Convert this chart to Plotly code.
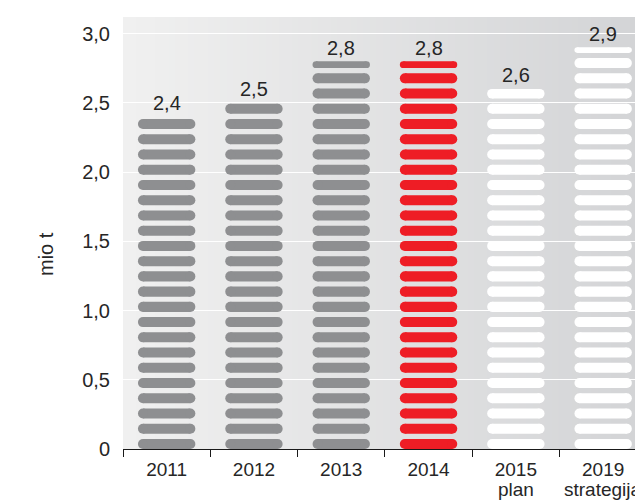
import plotly.graph_objects as go

# ---- data ----
categories = ["2011", "2012", "2013", "2014", "2015<br>plan", "2019<br>strategija"]
values = [2.4, 2.5, 2.8, 2.8, 2.6, 2.9]
value_labels = ["2,4", "2,5", "2,8", "2,8", "2,6", "2,9"]
pill_colors = ["#8e8f91", "#8e8f91", "#8e8f91", "#ee1d25", "#ffffff", "#ffffff"]
y_tickvals = [0, 0.5, 1.0, 1.5, 2.0, 2.5, 3.0]
y_ticktext = ["0", "0,5", "1,0", "1,5", "2,0", "2,5", "3,0"]
y_title = "mio t"

# ---- geometry / style (page body adds an 8px offset) ----
OFF = 8
W, H = 643 - OFF, 500 - OFF
ML, MR, MT = 123 - OFF, 0, 17 - OFF
MB = H - (449 - OFF)
plot_w = W - ML - MR
plot_h = H - MT - MB
px_per_unit = 138.5
y_max = plot_h / px_per_unit
cat_px = 87.3
x_lo = -0.5
x_hi = x_lo + plot_w / cat_px

PERIOD = 0.11          # pill repeat (data units)
PILL_H = 0.0725        # pill thickness (data units)
PILL_W_PX = 57.4       # full pill width incl. round caps
FONT = dict(family="Liberation Sans, Arial, sans-serif", size=20, color="#262626")
XFONT = dict(family="Liberation Sans, Arial, sans-serif", size=19, color="#262626")

fig = go.Figure()

for i, (v, col) in enumerate(zip(values, pill_colors)):
    k = 0
    full_x, full_y = [], []
    partial = []
    while k * PERIOD < v - 1e-9:
        bottom = k * PERIOD
        hgt = min(PILL_H, v - bottom)
        thick_px = hgt * px_per_unit
        half_len = (PILL_W_PX - thick_px) / 2 / cat_px
        yc = bottom + hgt / 2
        if hgt >= PILL_H - 1e-9:
            full_x += [i - half_len, i + half_len, None]
            full_y += [yc, yc, None]
        else:
            partial.append((half_len, yc, thick_px))
        k += 1
    thick = PILL_H * px_per_unit
    fig.add_trace(go.Scatter(
        x=full_x, y=full_y, mode="lines+markers",
        line=dict(color=col, width=thick),
        marker=dict(color=col, size=thick, line=dict(width=0)),
        hoverinfo="skip", showlegend=False, cliponaxis=False))
    for half_len, yc, tp in partial:
        fig.add_trace(go.Scatter(
            x=[i - half_len, i + half_len], y=[yc, yc], mode="lines+markers",
            line=dict(color=col, width=tp),
            marker=dict(color=col, size=tp, line=dict(width=0)),
            hoverinfo="skip", showlegend=False))
    fig.add_annotation(x=i, y=v, text=value_labels[i], showarrow=False,
                       yanchor="middle", yshift=13.5, font=FONT)

# category labels: first line as tick label, second line placed just beneath
first_lines = [c.split("<br>")[0] for c in categories]
for i, c in enumerate(categories):
    parts = c.split("<br>")
    if len(parts) > 1:
        fig.add_annotation(x=i, xref="x", yref="paper", y=0, yanchor="middle",
                           yshift=-40, borderpad=0, text=parts[1], showarrow=False, font=XFONT)

# background gradient (style)
n = 80
c0 = (0xf0, 0xf0, 0xf0)
c1 = (0xd3, 0xd4, 0xd6)
shapes = []
for j in range(n):
    t = j / (n - 1)
    c = tuple(round(a + (b - a) * t) for a, b in zip(c0, c1))
    shapes.append(dict(type="rect", xref="paper", yref="paper",
                       x0=j / n, x1=(j + 1) / n + 0.002, y0=0, y1=1,
                       fillcolor="rgb(%d,%d,%d)" % c, line=dict(width=0), layer="below"))

fig.add_annotation(xref="paper", yref="paper", x=(46 - 123) / plot_w, y=(449 - 254) / plot_h,
                   xanchor="center", yanchor="middle",
                   text=y_title, showarrow=False, textangle=-90, font=FONT)

fig.update_layout(
    width=W, height=H, margin=dict(l=ML, r=MR, t=MT, b=MB, autoexpand=False),
    paper_bgcolor="white", plot_bgcolor="rgba(0,0,0,0)",
    shapes=shapes, font=FONT, showlegend=False,
    xaxis=dict(range=[x_lo, x_hi], tickvals=list(range(len(categories))), ticktext=first_lines,
               ticks="", showgrid=False, zeroline=False, showline=True, linecolor="#1a1a1a",
               linewidth=1, automargin=False, tickfont=XFONT, ticklabelstandoff=3,
               ticklabeloverflow="allow",
               minor=dict(tickvals=[i - 0.5 for i in range(len(categories) + 1)], ticks="outside",
                          ticklen=7, tickcolor="#1a1a1a", tickwidth=1, showgrid=False)),
    yaxis=dict(range=[0, y_max], tickvals=y_tickvals, ticktext=y_ticktext, showgrid=True,
               gridcolor="white", gridwidth=1.2, zeroline=False, showline=False, ticks="",
               ticklabelstandoff=12, automargin=False, tickfont=FONT),
)

fig.write_html("out.html")
